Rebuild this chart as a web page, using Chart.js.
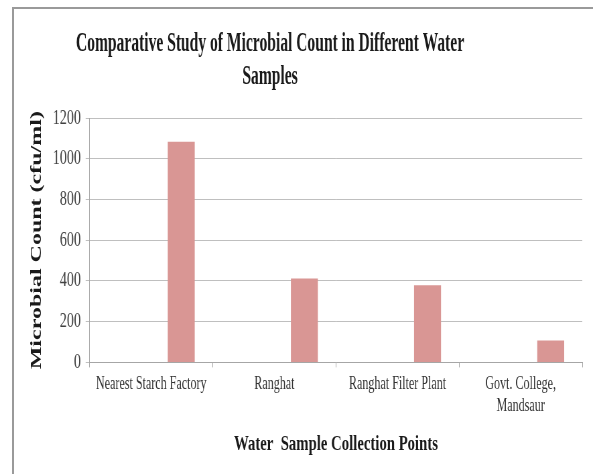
<!DOCTYPE html>
<html>
<head>
<meta charset="utf-8">
<script src="https://cdn.jsdelivr.net/npm/chart.js@4.4.1/dist/chart.umd.min.js"></script>
<style>
  body { margin: 0; background: #fff; }
  #frame { position: absolute; left: 12px; top: 7px; width: 581px; height: 467px;
           border-top: 2px solid #9a9a9a; border-left: 2px solid #9a9a9a; }
  #chart { position: absolute; left: 0; top: 0; }
</style>
</head>
<body>
<div id="frame"></div>
<canvas id="chart" width="885" height="474" style="width:593px;height:474px"></canvas>
<script>
const categories = ['Nearest Starch Factory', 'Ranghat', 'Ranghat Filter Plant', ['Govt. College,', 'Mandsaur']];
const spacerSeries = [0, 0, 0, 0];
const microbialCount = [1083, 412, 379, 108];
const titleLines = ['Comparative Study of Microbial Count in Different Water', 'Samples'];

// canvas is drawn wider and squeezed by css, like the narrow lettering of the original
const serif = 'Liberation Serif';

const titlePlugin = {
    id: 'titleAt',
    afterDraw(chart) {
        const ctx = chart.ctx;
        ctx.save();
        ctx.translate(403, 0);
        ctx.scale(0.83, 1);
        ctx.font = 'bold 28px "' + serif + '"';
        ctx.fillStyle = '#1a1a1a';
        ctx.textAlign = 'center';
        ctx.textBaseline = 'alphabetic';
        ctx.fillText(titleLines[0], 0, 51);
        ctx.fillText(titleLines[1], 0, 84);
        ctx.restore();
    }
};

const ctx = document.getElementById('chart').getContext('2d');
const chart = new Chart(ctx, {
    type: 'bar',
    data: {
        labels: categories,
        datasets: [{
            label: 'spacer',
            data: spacerSeries,
            backgroundColor: 'rgba(0,0,0,0)'
        }, {
            label: 'Microbial Count',
            data: microbialCount,
            backgroundColor: '#d99694'
        }]
    },
    options: {
        responsive: false,
        animation: false,
        categoryPercentage: 0.974,
        barPercentage: 0.45,
        layout: {
            padding: { top: 118, left: 30, right: 16, bottom: 10 }
        },
        plugins: {
            legend: { display: false },
            tooltip: { enabled: false }
        },
        scales: {
            x: {
                grid: { drawOnChartArea: false, tickLength: 5, color: '#a6a6a6' },
                border: { color: '#a6a6a6' },
                ticks: {
                    autoSkip: false, maxRotation: 0, padding: 6,
                    color: '#333',
                    font: { family: serif, size: 18 }
                },
                title: {
                    display: true,
                    text: 'Water  Sample Collection Points',
                    color: '#1a1a1a',
                    font: { family: serif, size: 22, weight: 'bold' },
                    padding: { top: 9, bottom: 6 }
                }
            },
            y: {
                min: 0,
                max: 1200,
                grid: { color: '#bfbfbf', tickLength: 6 },
                border: { color: '#a6a6a6' },
                ticks: {
                    stepSize: 200, padding: 7,
                    color: '#404040',
                    font: { family: serif, size: 21 },
                    callback: v => String(v)
                },
                title: {
                    display: true,
                    text: 'Microbial Count (cfu/ml)',
                    color: '#1a1a1a',
                    font: { family: serif, size: 24, weight: 'bold' },
                    padding: { top: 10, bottom: 3 }
                }
            }
        }
    },
    plugins: [titlePlugin]
});
</script>
</body>
</html>
